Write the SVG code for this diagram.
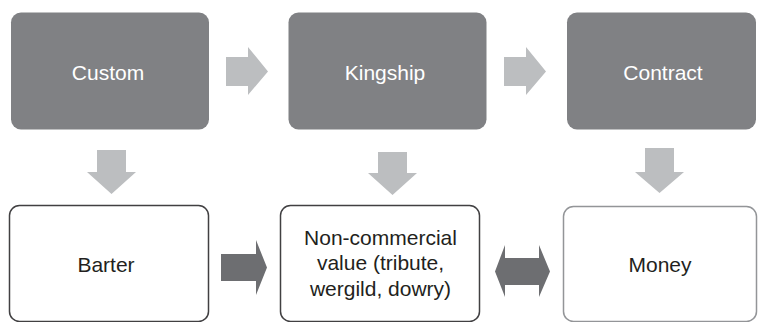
<svg xmlns="http://www.w3.org/2000/svg" width="758" height="322" viewBox="0 0 758 322">
<style>
.top{fill:#808184;}
.bot{fill:#ffffff;stroke:#414042;stroke-width:1.5;}
.botl{fill:#ffffff;stroke:#939598;stroke-width:1.5;}
.lt{fill:#bcbec0;}
.dk{fill:#6d6e71;}
text{font-family:"Liberation Sans",Arial,sans-serif;font-size:21px;text-anchor:middle;}
.tw{fill:#ffffff;}
.tb{fill:#231f20;}
</style>
<rect width="758" height="322" fill="#ffffff"/>
<g id="custom"><rect class="top" x="11" y="12.5" width="198" height="117" rx="10"/><text class="tw" x="108" y="80">Custom</text></g>
<g id="kingship"><rect class="top" x="288.5" y="12.5" width="198" height="117" rx="10"/><text class="tw" x="385" y="80">Kingship</text></g>
<g id="contract"><rect class="top" x="567" y="12.5" width="189" height="117" rx="10"/><text class="tw" x="663" y="80">Contract</text></g>
<g id="barter"><rect class="bot" x="9.5" y="205.5" width="199" height="116" rx="10"/><text class="tb" x="106" y="272">Barter</text></g>
<g id="noncommercial"><rect class="bot" x="280.5" y="205.5" width="199" height="116" rx="10"/><text class="tb" x="380.5" y="244.5">Non-commercial</text><text class="tb" x="380.5" y="270">value (tribute,</text><text class="tb" x="380.5" y="295.5">wergild, dowry)</text></g>
<g id="money"><rect class="botl" x="563.5" y="206.5" width="193" height="115" rx="10"/><text class="tb" x="660" y="272">Money</text></g>
<g id="connectors">
<polygon class="lt" points="226,57 248,57 248,47 268,71.5 248,95 248,86 226,86"/>
<polygon class="lt" points="504,57 526,57 526,47 546,71.5 526,95 526,86 504,86"/>
<polygon class="lt" points="97,150 126,150 126,172 136,172 111.5,194 87,172 97,172"/>
<polygon class="lt" points="378,152 407,152 407,173 417,173 392.5,195 368,173 378,173"/>
<polygon class="lt" points="645,148 674,148 674,172 684,172 659.5,193 635,172 645,172"/>
<polygon class="dk" points="221,254 256,254 256,240 267,267.5 256,295 256,281 221,281"/>
<polygon class="dk" points="495,271.5 505,245 505,258 539,258 539,245 550,271.5 539,297 539,285 505,285 505,297"/>
</g>
</svg>
